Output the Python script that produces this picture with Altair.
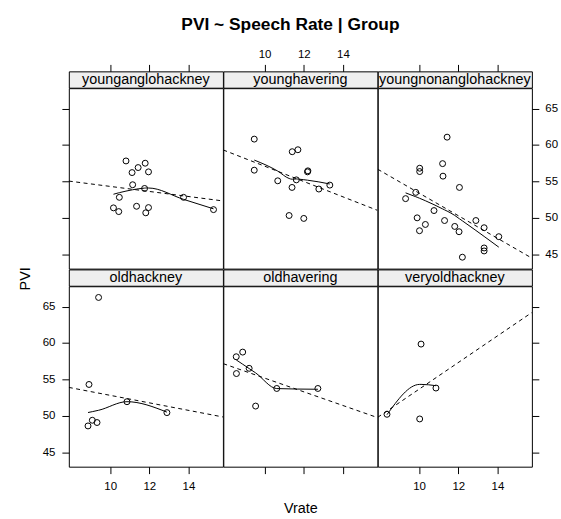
import altair as alt
import pandas as pd

# Panel order: top row first, then bottom row (left to right)
groups = ["younganglohackney", "younghavering", "youngnonanglohackney",
          "oldhackney", "oldhavering", "veryoldhackney"]

vrate_younganglohackney = [10.81, 11.79, 11.43, 11.12, 11.96, 11.15, 11.76, 10.47,
                           13.75, 15.28, 10.17, 10.44, 11.35, 11.96, 11.82]
pvi_younganglohackney = [57.8, 57.49, 56.89, 56.2, 56.3, 54.53, 54.02, 52.8,
                         52.8, 51.11, 51.35, 50.84, 51.57, 51.39, 50.67]

vrate_younghavering = [9.47, 11.41, 11.70, 9.47, 12.21, 12.19, 10.67, 11.62,
                       11.40, 12.77, 13.33, 11.25, 12.00]
pvi_younghavering = [60.8, 59.07, 59.34, 56.53, 56.44, 56.3, 55.07, 55.2,
                     54.16, 53.94, 54.48, 50.3, 49.9]

vrate_youngnonanglohackney = [11.43, 10.03, 10.03, 11.20, 11.22, 12.06, 9.83, 9.31,
                              10.76, 9.90, 10.32, 10.02, 11.30, 11.82, 12.04, 12.90,
                              13.32, 14.07, 13.32, 13.32, 12.21]
pvi_youngnonanglohackney = [61.07, 56.8, 56.34, 57.43, 55.71, 54.16, 53.48, 52.62,
                            50.98, 49.98, 49.07, 48.21, 49.61, 48.8, 48.07, 49.61,
                            48.62, 47.39, 45.84, 45.43, 44.57]

vrate_oldhackney = [9.41, 8.92, 10.86, 12.90, 8.87, 9.09, 9.33]
pvi_oldhackney = [66.26, 54.3, 51.93, 50.43, 48.6, 49.38, 49.07]

vrate_oldhavering = [8.88, 8.55, 9.21, 8.56, 10.62, 12.72, 9.54]
pvi_oldhavering = [58.75, 58.11, 56.52, 55.8, 53.75, 53.75, 51.33]

vrate_veryoldhackney = [10.10, 10.86, 8.36, 10.03]
pvi_veryoldhackney = [59.85, 53.81, 50.2, 49.56]

x_ticks = [10, 12, 14]
y_ticks = [45, 50, 55, 60, 65]
x_limits = [7.89, 15.76]
y_limits = [43.0, 67.8]

series = {
    "younganglohackney": (vrate_younganglohackney, pvi_younganglohackney),
    "younghavering": (vrate_younghavering, pvi_younghavering),
    "youngnonanglohackney": (vrate_youngnonanglohackney, pvi_youngnonanglohackney),
    "oldhackney": (vrate_oldhackney, pvi_oldhackney),
    "oldhavering": (vrate_oldhavering, pvi_oldhavering),
    "veryoldhackney": (vrate_veryoldhackney, pvi_veryoldhackney),
}
rows = []
for g in groups:
    xs, ys = series[g]
    rows += [{"group": g, "vrate": x, "pvi": y} for x, y in zip(xs, ys)]
df = pd.DataFrame(rows)

FONT = "Liberation Sans"
W, H, SH = 155.6, 182.2, 16.5
TICK_FS = 11.6
BASE_FS = 14.5

xscale = alt.Scale(domain=x_limits, nice=False, zero=False)
yscale = alt.Scale(domain=y_limits, nice=False, zero=False)


def axis(orient, values, labels, pad, **extra):
    return alt.Axis(orient=orient, values=values, labels=labels, title=extra.pop("title", None),
                    domain=False, grid=False, ticks=True, tickSize=7, tickColor="black",
                    tickWidth=1, labelColor="black", labelFont=FONT, labelFontSize=TICK_FS,
                    labelPadding=pad, labelFlush=False, **extra)


def panel(name, x_axis, y_axis):
    base = alt.Chart(df).transform_filter(alt.datum.group == name)
    xenc = alt.X("vrate:Q", scale=xscale, axis=x_axis)
    yenc = alt.Y("pvi:Q", scale=yscale, axis=y_axis)
    fit = base.transform_regression("vrate", "pvi", extent=x_limits).mark_line(
        color="black", strokeWidth=1, strokeDash=[4, 3.5], clip=True
    ).encode(x=xenc, y=yenc)
    smooth = base.transform_loess("vrate", "pvi", bandwidth=1).mark_line(
        color="black", strokeWidth=1, clip=True, interpolate="monotone"
    ).encode(x=xenc, y=yenc)
    pts = base.mark_point(shape="circle", filled=False, color="black", size=36,
                          strokeWidth=1, opacity=1).encode(x=xenc, y=yenc)
    return alt.layer(fit, smooth, pts).properties(
        width=W, height=H,
        view=alt.ViewBackground(fill="white", stroke="black", strokeWidth=1),
    )


def strip(name, x_axis):
    marker = alt.Chart(df).transform_filter(alt.datum.group == name).mark_point(
        opacity=0
    ).encode(x=alt.X("vrate:Q", scale=xscale, axis=x_axis))
    label = alt.Chart(pd.DataFrame({"label": [name]})).mark_text(
        font=FONT, fontSize=BASE_FS, color="black", align="center", baseline="middle"
    ).encode(x=alt.value(W / 2), y=alt.value(SH / 2 + 0.5), text="label:N")
    return alt.layer(marker, label).properties(
        width=W, height=SH,
        view=alt.ViewBackground(fill="#efefef", stroke="black", strokeWidth=1),
    )


top_ticks = axis("top", x_ticks, False, 5)
top_labels = axis("top", x_ticks, True, 5)
bottom_labels = axis("bottom", x_ticks, True, 7)
bottom_ticks = axis("bottom", x_ticks, False, 7, title="Vrate", titleFont=FONT,
                    titleFontSize=BASE_FS, titleFontWeight="normal", titleColor="black",
                    titleY=42, titleBaseline="middle")
left_ticks = axis("left", y_ticks, False, 7)
left_labels = axis("left", y_ticks, True, 7, title="PVI", titleFont=FONT,
                   titleFontSize=BASE_FS, titleFontWeight="normal", titleColor="black",
                   titleX=-44, titleY=-8, titleAngle=270, titleAlign="center",
                   titleBaseline="middle")
right_ticks = axis("right", y_ticks, False, 6)
right_labels = axis("right", y_ticks, True, 6)

cells = [
    strip(groups[0], top_ticks), strip(groups[1], top_labels), strip(groups[2], top_ticks),
    panel(groups[0], None, left_ticks), panel(groups[1], None, None),
    panel(groups[2], None, right_labels),
    strip(groups[3], None), strip(groups[4], None), strip(groups[5], None),
    panel(groups[3], bottom_labels, left_labels), panel(groups[4], bottom_ticks, None),
    panel(groups[5], bottom_labels, right_ticks),
]

chart = alt.concat(*cells, columns=3, spacing=0, bounds="flush", align="each").properties(
    title=alt.TitleParams("PVI ~ Speech Rate | Group", font=FONT, fontSize=17.5,
                          fontWeight="bold", color="black", anchor="middle",
                          offset=15, dx=3),
    padding={"left": 16.5, "top": 13.5, "right": 3, "bottom": 3},
    background="white",
)

chart.save("out.html", embed_options={"renderer": "svg", "actions": False})
